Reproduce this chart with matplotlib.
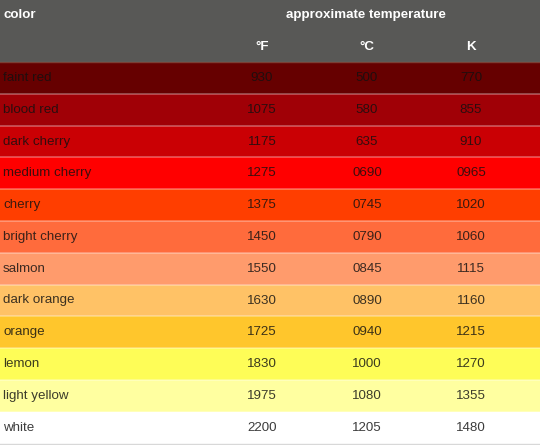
import matplotlib
matplotlib.use("Agg")
import matplotlib.pyplot as plt

names = ["faint red", "blood red", "dark cherry", "medium cherry", "cherry",
         "bright cherry", "salmon", "dark orange", "orange", "lemon",
         "light yellow", "white"]
deg_f = ["930", "1075", "1175", "1275", "1375", "1450", "1550", "1630",
         "1725", "1830", "1975", "2200"]
deg_c = ["500", "580", "635", "0690", "0745", "0790", "0845", "0890",
         "0940", "1000", "1080", "1205"]
kelvin = ["770", "855", "910", "0965", "1020", "1060", "1115", "1160",
          "1215", "1270", "1355", "1480"]
row_colors = ["#660000", "#a00006", "#ca0004", "#ff0000", "#ff3e00",
              "#ff6b3c", "#ff9b6c", "#ffc266", "#ffc62c", "#fefd57",
              "#ffffa0", "#ffffff"]
col_heads = ["°F", "°C", "K"]
header_title = "approximate temperature"
first_head = "color"

W, H = 540, 445
ROW = 31.8
HEAD = 62.0
n = len(names)

fig = plt.figure(figsize=(W / 100, H / 100), dpi=100)
ax = fig.add_axes([0, 0, 1, 1])
top = -HEAD / ROW
bottom = (H - HEAD) / ROW
ax.set_xlim(0, W)
ax.set_ylim(bottom, top)
ax.axis("off")

font = "Liberation Sans"
fs = 9.6

# header
ax.barh([top / 2], [W], height=-top, left=0, color="#585856", align="center")
ax.barh([bottom - (bottom - n) / 2], [W], height=(bottom - n), left=0,
        color="#e4e4e4", align="center")

# rows
ys = [i + 0.5 for i in range(n)]
ax.barh(ys, [W] * n, height=1.0, left=0, color=row_colors, align="center")
for i in range(1, n):
    ax.axhline(i, color="white", alpha=0.35, lw=1.2)
ax.axhline(0, color="#8a6a5a", alpha=0.6, lw=1)
ax.axhline(n, color="#d8d8d8", lw=1)

col_x = [262, 367, 471]
ax.text(3, (15 - HEAD) / ROW, first_head, color="white", fontweight="bold",
        fontsize=fs, family=font, va="center", ha="left")
ax.text(366, (15 - HEAD) / ROW, header_title, color="white", fontweight="bold",
        fontsize=fs, family=font, va="center", ha="center")
for x, h in zip(col_x, col_heads):
    ax.text(x, (47 - HEAD) / ROW, h, color="white", fontweight="bold",
            fontsize=fs, family=font, va="center", ha="center")

for i in range(n):
    y = ys[i]
    kw = dict(color="#111111", alpha=0.82, fontsize=fs, family=font, va="center")
    ax.text(3, y, names[i], ha="left", **kw)
    for x, v in zip(col_x, (deg_f[i], deg_c[i], kelvin[i])):
        ax.text(x, y, v, ha="center", **kw)

fig.savefig("out.png", dpi=100)
